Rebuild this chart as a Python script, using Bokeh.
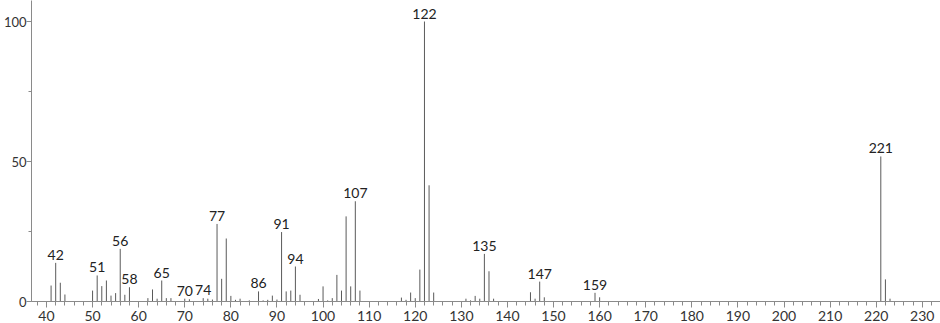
from bokeh.plotting import figure
from bokeh.models import ColumnDataSource, Range1d, SingleIntervalTicker
from bokeh.core.properties import value
from bokeh.embed import file_html
from bokeh.resources import INLINE

# m/z values and relative intensities
mz = [41, 42, 43, 44, 50, 51, 52, 53, 54, 55, 56, 57, 58,
      62, 63, 64, 65, 66, 67, 70, 71, 74, 75, 76, 77, 78, 79, 80, 81, 82,
      84, 86, 87, 88, 89, 90, 91, 92, 93, 94, 95,
      99, 100, 101, 102, 103, 104, 105, 106, 107, 108,
      117, 118, 119, 120, 121, 122, 123, 124,
      131, 132, 133, 134, 135, 136, 137,
      145, 146, 147, 148, 159, 160, 221, 222, 223]
intensity = [5.7, 13.8, 6.7, 2.5, 3.9, 9.3, 5.5, 7.5, 2.1, 3.0, 18.8, 2.4, 5.1,
             1.2, 4.3, 1.0, 7.5, 1.2, 1.2, 1.0, 0.8, 1.2, 1.0, 0.7, 27.7, 8.1, 22.5, 2.0, 0.6, 1.0,
             0.4, 3.6, 0.4, 0.6, 2.1, 0.7, 24.8, 3.6, 3.9, 12.5, 2.4,
             0.9, 5.4, 0.4, 1.2, 9.5, 3.9, 30.4, 5.4, 35.8, 3.9,
             1.4, 0.6, 3.2, 1.2, 11.4, 100.0, 41.5, 3.2,
             1.0, 0.4, 2.0, 1.0, 17.0, 10.8, 1.0,
             3.3, 1.0, 7.1, 1.5, 3.1, 1.5, 51.8, 7.9, 1.0]

labelled = [42, 51, 56, 58, 65, 70, 74, 77, 86, 91, 94, 107, 122, 135, 147, 159, 221]

lab_y = [intensity[mz.index(m)] for m in labelled]
lab_txt = [str(m) for m in labelled]

src = ColumnDataSource(dict(mz=mz, intensity=intensity))
lab_src = ColumnDataSource(dict(mz=labelled, y=lab_y, label=lab_txt))

p = figure(width=940, height=323, output_backend="svg", toolbar_location=None,
           x_range=Range1d(36.75, 233.95), y_range=Range1d(0, 107.5),
           min_border_left=29, min_border_right=0, min_border_top=0, min_border_bottom=22)
p.outline_line_color = None
p.xgrid.visible = False
p.ygrid.visible = False
p.background_fill_color = "white"
p.border_fill_color = "white"

p.segment(x0="mz", y0=0, x1="mz", y1="intensity", source=src,
          line_color="#5a5a5a", line_width=1)

p.text(x="mz", y="y", text="label", source=lab_src, text_align="center",
       text_baseline="bottom", text_font=value("Lato"), text_font_size="14px",
       text_color="#222222", y_offset=-3)

for ax in (p.xaxis[0], p.yaxis[0]):
    ax.axis_line_color = "#8a8a8a"
    ax.major_tick_line_color = "#8a8a8a"
    ax.minor_tick_line_color = "#8a8a8a"
    ax.major_label_text_font = "Lato"
    ax.major_label_text_color = "#333333"
    ax.major_tick_in = 0
    ax.minor_tick_in = 0

p.xaxis.ticker = SingleIntervalTicker(interval=10, num_minor_ticks=5)
p.xaxis.major_label_text_font_size = "14px"
p.xaxis.major_tick_out = 6
p.xaxis.minor_tick_out = 4
p.xaxis.major_label_standoff = 3

p.yaxis.ticker = SingleIntervalTicker(interval=50, num_minor_ticks=2)
p.yaxis.major_label_text_font_size = "13px"
p.yaxis.major_tick_out = 5
p.yaxis.minor_tick_out = 3
p.yaxis.major_label_standoff = 0

open("out.html", "w").write(file_html(p, INLINE))
